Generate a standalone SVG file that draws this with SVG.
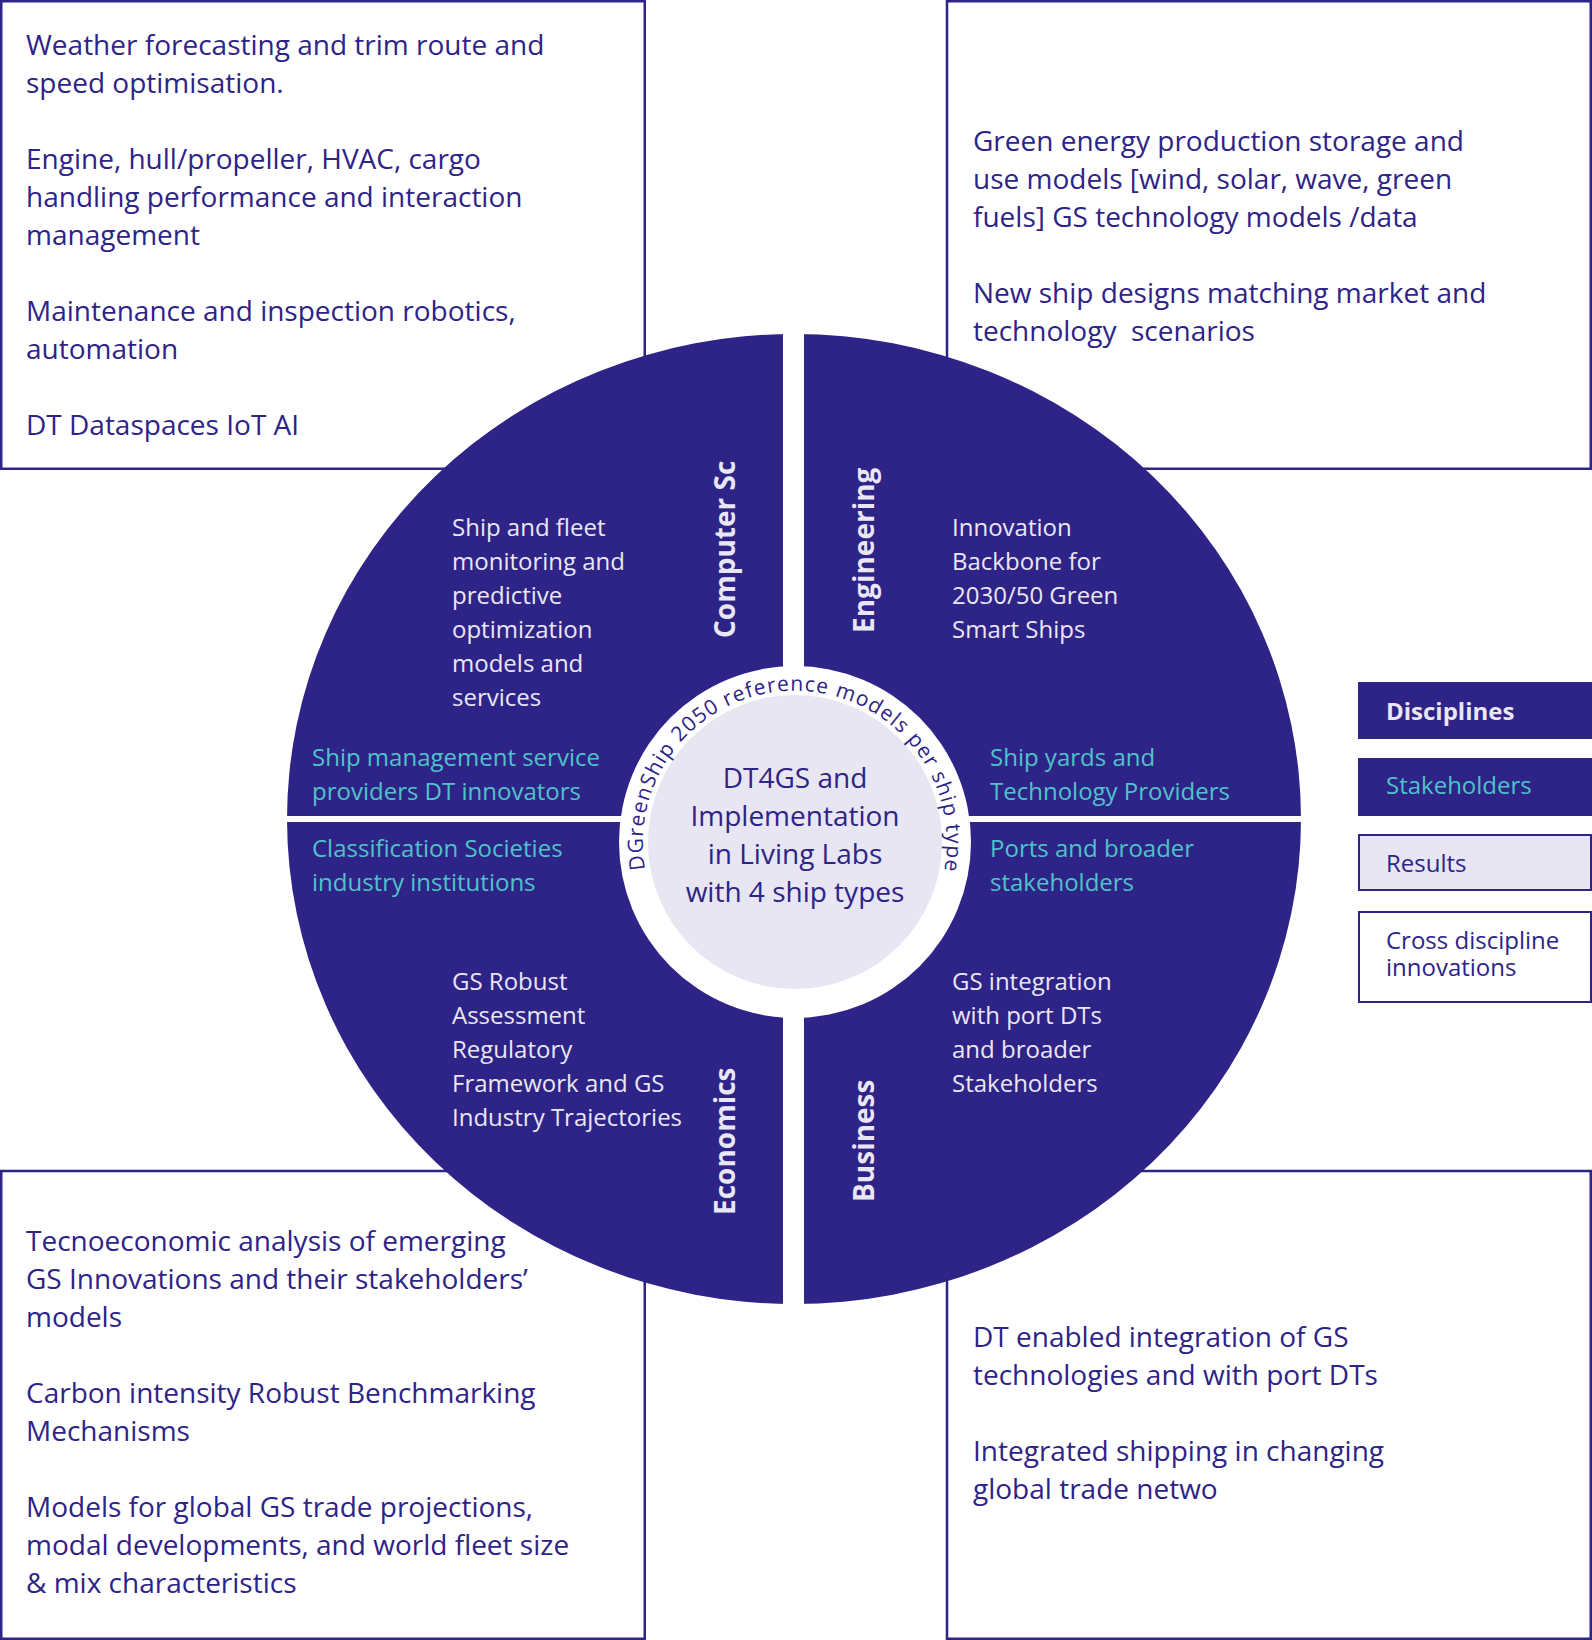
<svg xmlns="http://www.w3.org/2000/svg" width="1592" height="1640" viewBox="0 0 1592 1640">
  <style>
    .box { fill: #ffffff; stroke: #2E2387; stroke-width: 2.5; }
    .quad { fill: #2E2387; }
    .bt { font-family: "Open Sans", "Noto Sans", sans-serif; font-size: 28px; fill: #2E2387; }
    .qt { font-family: "Open Sans", "Noto Sans", sans-serif; font-size: 24px; fill: #E9E7F5; }
    .st { font-family: "Open Sans", "Noto Sans", sans-serif; font-size: 24px; fill: #4FC3C8; }
    .disc { font-family: "Open Sans", "Noto Sans", sans-serif; font-size: 28px; font-weight: 700; fill: #E9E7F5; }
    .ct { font-family: "Open Sans", "Noto Sans", sans-serif; font-size: 28px; fill: #2E2387; text-anchor: middle; }
    .ring { font-family: "Open Sans", "Noto Sans", sans-serif; font-size: 21px; fill: #2E2387; }
    .lg { font-family: "Open Sans", "Noto Sans", sans-serif; font-size: 24px; }
  </style>
  <defs>
    <clipPath id="disk">
      <ellipse cx="794" cy="819" rx="507" ry="485"/>
    </clipPath>
    <path id="ringPath" d="M 645.2 869.5 A 152 152 0 1 1 943.3 875.3"/>
  </defs>

  <rect x="0" y="0" width="1592" height="1640" fill="#ffffff"/>

  <!-- Result boxes -->
  <g id="box-top-left">
    <rect class="box" x="1.25" y="1.25" width="643.5" height="467.5"/>
    <text class="bt" x="26" y="55">Weather forecasting and trim route and</text>
    <text class="bt" x="26" y="93">speed optimisation.</text>
    <text class="bt" x="26" y="169">Engine, hull/propeller, HVAC, cargo</text>
    <text class="bt" x="26" y="207">handling performance and interaction</text>
    <text class="bt" x="26" y="245">management</text>
    <text class="bt" x="26" y="321">Maintenance and inspection robotics,</text>
    <text class="bt" x="26" y="359">automation</text>
    <text class="bt" x="26" y="435">DT Dataspaces IoT AI</text>
  </g>
  <g id="box-top-right">
    <rect class="box" x="947" y="1.25" width="643.75" height="467.5"/>
    <text class="bt" x="973" y="151">Green energy production storage and</text>
    <text class="bt" x="973" y="189">use models [wind, solar, wave, green</text>
    <text class="bt" x="973" y="227">fuels] GS technology models /data</text>
    <text class="bt" x="973" y="303">New ship designs matching market and</text>
    <text class="bt" x="973" y="341" xml:space="preserve">technology  scenarios</text>
  </g>
  <g id="box-bottom-left">
    <rect class="box" x="1.25" y="1171" width="643.5" height="467.75"/>
    <text class="bt" x="26" y="1251">Tecnoeconomic analysis of emerging</text>
    <text class="bt" x="26" y="1289">GS Innovations and their stakeholders’</text>
    <text class="bt" x="26" y="1327">models</text>
    <text class="bt" x="26" y="1403">Carbon intensity Robust Benchmarking</text>
    <text class="bt" x="26" y="1441">Mechanisms</text>
    <text class="bt" x="26" y="1517">Models for global GS trade projections,</text>
    <text class="bt" x="26" y="1555">modal developments, and world fleet size</text>
    <text class="bt" x="26" y="1593">&amp; mix characteristics</text>
  </g>
  <g id="box-bottom-right">
    <rect class="box" x="947" y="1171" width="643.75" height="467.75"/>
    <text class="bt" x="973" y="1347">DT enabled integration of GS</text>
    <text class="bt" x="973" y="1385">technologies and with port DTs</text>
    <text class="bt" x="973" y="1461">Integrated shipping in changing</text>
    <text class="bt" x="973" y="1499">global trade netwo</text>
  </g>

  <!-- Quadrants -->
  <g id="quadrant-computer-science">
    <rect class="quad" x="287" y="334" width="496" height="482" clip-path="url(#disk)"/>
    <text class="disc" transform="translate(735,638) rotate(-90)">Computer Sc</text>
    <text class="qt" x="452" y="536">Ship and fleet</text>
    <text class="qt" x="452" y="570">monitoring and</text>
    <text class="qt" x="452" y="604">predictive</text>
    <text class="qt" x="452" y="638">optimization</text>
    <text class="qt" x="452" y="672">models and</text>
    <text class="qt" x="452" y="706">services</text>
    <text class="st" x="312" y="766">Ship management service</text>
    <text class="st" x="312" y="800">providers DT innovators</text>
  </g>
  <g id="quadrant-engineering">
    <rect class="quad" x="804" y="334" width="497" height="482" clip-path="url(#disk)"/>
    <text class="disc" transform="translate(874,633) rotate(-90)">Engineering</text>
    <text class="qt" x="952" y="536">Innovation</text>
    <text class="qt" x="952" y="570">Backbone for</text>
    <text class="qt" x="952" y="604">2030/50 Green</text>
    <text class="qt" x="952" y="638">Smart Ships</text>
    <text class="st" x="990" y="766">Ship yards and</text>
    <text class="st" x="990" y="800">Technology Providers</text>
  </g>
  <g id="quadrant-economics">
    <rect class="quad" x="287" y="822" width="496" height="482" clip-path="url(#disk)"/>
    <text class="disc" transform="translate(735,1215) rotate(-90)">Economics</text>
    <text class="st" x="312" y="857">Classification Societies</text>
    <text class="st" x="312" y="891">industry institutions</text>
    <text class="qt" x="452" y="990">GS Robust</text>
    <text class="qt" x="452" y="1024">Assessment</text>
    <text class="qt" x="452" y="1058">Regulatory</text>
    <text class="qt" x="452" y="1092">Framework and GS</text>
    <text class="qt" x="452" y="1126">Industry Trajectories</text>
  </g>
  <g id="quadrant-business">
    <rect class="quad" x="804" y="822" width="497" height="482" clip-path="url(#disk)"/>
    <text class="disc" transform="translate(874,1202) rotate(-90)">Business</text>
    <text class="st" x="990" y="857">Ports and broader</text>
    <text class="st" x="990" y="891">stakeholders</text>
    <text class="qt" x="952" y="990">GS integration</text>
    <text class="qt" x="952" y="1024">with port DTs</text>
    <text class="qt" x="952" y="1058">and broader</text>
    <text class="qt" x="952" y="1092">Stakeholders</text>
  </g>

  <!-- Centre -->
  <g id="centre">
    <circle cx="795" cy="842" r="176" fill="#ffffff"/>
    <circle cx="795" cy="842" r="147" fill="#E7E6F2"/>
    <text class="ring"><textPath href="#ringPath" textLength="532" lengthAdjust="spacing">DGreenShip 2050 reference models per ship type</textPath></text>
    <text class="ct" x="795" y="788">DT4GS and</text>
    <text class="ct" x="795" y="826">Implementation</text>
    <text class="ct" x="795" y="864">in Living Labs</text>
    <text class="ct" x="795" y="902">with 4 ship types</text>
  </g>

  <!-- Legend -->
  <g id="legend-disciplines">
    <rect x="1358" y="682" width="234" height="57" fill="#2E2387"/>
    <text class="lg" x="1386" y="720" font-weight="700" fill="#E9E7F5">Disciplines</text>
  </g>
  <g id="legend-stakeholders">
    <rect x="1358" y="758" width="234" height="58" fill="#2E2387"/>
    <text class="lg" x="1386" y="794" fill="#4FC3C8">Stakeholders</text>
  </g>
  <g id="legend-results">
    <rect x="1359" y="835" width="232" height="55" fill="#E7E6F2" stroke="#2E2387" stroke-width="2"/>
    <text class="lg" x="1386" y="872" fill="#2E2387">Results</text>
  </g>
  <g id="legend-cross">
    <rect x="1359" y="912" width="232" height="90" fill="#ffffff" stroke="#2E2387" stroke-width="2"/>
    <text class="lg" x="1386" y="949" fill="#2E2387">Cross discipline</text>
    <text class="lg" x="1386" y="976" fill="#2E2387">innovations</text>
  </g>

  <g id="connectors"></g>
</svg>
